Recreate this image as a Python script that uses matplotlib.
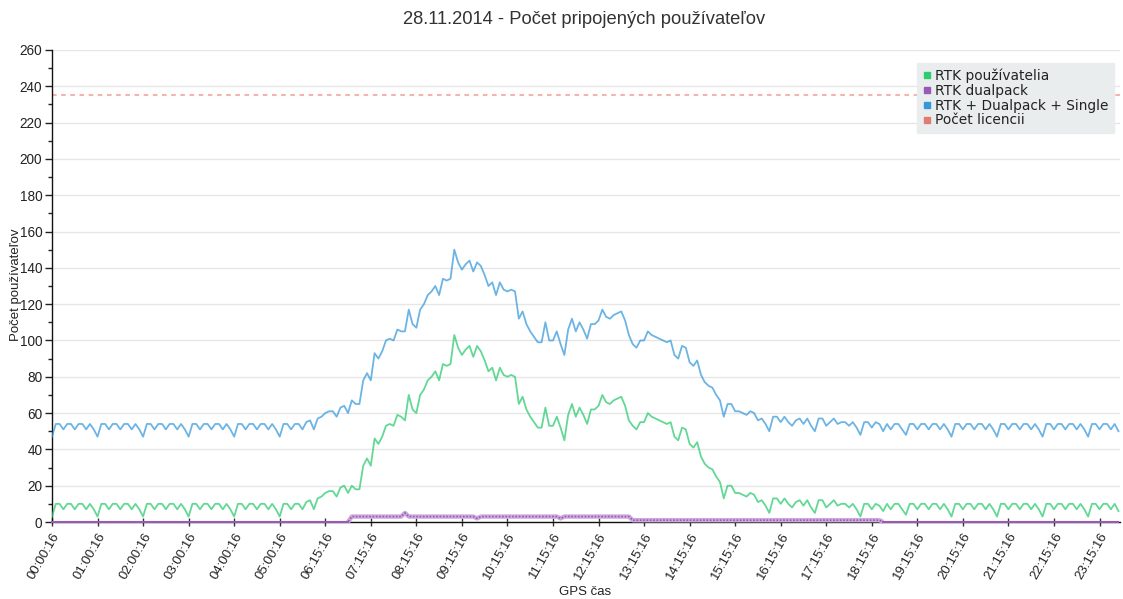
import numpy as np
import matplotlib
matplotlib.use("Agg")
import matplotlib.pyplot as plt
from matplotlib.ticker import MultipleLocator, FixedLocator
from matplotlib.lines import Line2D

# ---------------- data ----------------
tick_labels = ["00:00:16", "01:00:16", "02:00:16", "03:00:16", "04:00:16", "05:00:16",
               "06:15:16", "07:15:16", "08:15:16", "09:15:16", "10:15:16", "11:15:16",
               "12:15:16", "13:15:16", "14:15:16", "15:15:16", "16:15:16", "17:15:16",
               "18:15:16", "19:15:16", "20:15:16", "21:15:16", "22:15:16", "23:15:16"]
points_per_tick = 12

rtk_users = [
    3, 10, 10, 7, 10, 10, 7, 10, 10, 7,
    10, 7, 3, 10, 10, 7, 10, 10, 7, 10,
    10, 7, 10, 7, 3, 10, 10, 7, 10, 10,
    7, 10, 10, 7, 10, 7, 3, 10, 10, 7,
    10, 10, 7, 10, 10, 7, 10, 7, 3, 10,
    10, 7, 10, 10, 7, 10, 10, 7, 10, 7,
    3, 10, 10, 7, 10, 10, 7, 11, 12, 7,
    13, 14, 16, 17, 17, 14, 19, 20, 16, 20,
    18, 18, 31, 35, 31, 46, 43, 47, 53, 54,
    53, 59, 58, 56, 70, 62, 60, 70, 73, 78,
    80, 83, 78, 87, 86, 87, 103, 96, 92, 95,
    97, 91, 97, 94, 89, 83, 85, 78, 85, 81,
    80, 81, 80, 65, 69, 62, 58, 55, 52, 52,
    63, 53, 53, 58, 52, 45, 59, 65, 58, 63,
    59, 54, 62, 62, 64, 70, 66, 65, 67, 68,
    69, 64, 56, 53, 51, 55, 55, 60, 58, 57,
    56, 55, 54, 55, 47, 45, 52, 51, 43, 41,
    44, 36, 32, 30, 29, 25, 22, 13, 20, 20,
    16, 16, 15, 14, 16, 15, 11, 12, 9, 5,
    13, 13, 10, 13, 10, 8, 11, 12, 9, 12,
    8, 5, 12, 12, 8, 10, 12, 9, 10, 10,
    8, 10, 7, 3, 10, 10, 7, 10, 9, 6,
    10, 7, 10, 10, 7, 4, 10, 10, 7, 10,
    10, 7, 10, 10, 7, 10, 7, 3, 10, 10,
    7, 10, 10, 7, 10, 10, 7, 10, 7, 3,
    10, 10, 7, 10, 10, 7, 10, 10, 7, 10,
    7, 3, 10, 10, 7, 10, 10, 7, 10, 10,
    7, 10, 7, 3, 10, 10, 7, 10, 10, 7,
    10, 6,
]

rtk_dualpack = [
    0, 0, 0, 0, 0, 0, 0, 0, 0, 0,
    0, 0, 0, 0, 0, 0, 0, 0, 0, 0,
    0, 0, 0, 0, 0, 0, 0, 0, 0, 0,
    0, 0, 0, 0, 0, 0, 0, 0, 0, 0,
    0, 0, 0, 0, 0, 0, 0, 0, 0, 0,
    0, 0, 0, 0, 0, 0, 0, 0, 0, 0,
    0, 0, 0, 0, 0, 0, 0, 0, 0, 0,
    0, 0, 0, 0, 0, 0, 0, 0, 0, 3,
    3, 3, 3, 3, 3, 3, 3, 3, 3, 3,
    3, 3, 3, 5, 3, 3, 3, 3, 3, 3,
    3, 3, 3, 3, 3, 3, 3, 3, 3, 3,
    3, 3, 2, 3, 3, 3, 3, 3, 3, 3,
    3, 3, 3, 3, 3, 3, 3, 3, 3, 3,
    3, 3, 3, 3, 2, 3, 3, 3, 3, 3,
    3, 3, 3, 3, 3, 3, 3, 3, 3, 3,
    3, 3, 3, 1, 1, 1, 1, 1, 1, 1,
    1, 1, 1, 1, 1, 1, 1, 1, 1, 1,
    1, 1, 1, 1, 1, 1, 1, 1, 1, 1,
    1, 1, 1, 1, 1, 1, 1, 1, 1, 1,
    1, 1, 1, 1, 1, 1, 1, 1, 1, 1,
    1, 1, 1, 1, 1, 1, 1, 1, 1, 1,
    1, 1, 1, 1, 1, 1, 1, 1, 1, 0,
    0, 0, 0, 0, 0, 0, 0, 0, 0, 0,
    0, 0, 0, 0, 0, 0, 0, 0, 0, 0,
    0, 0, 0, 0, 0, 0, 0, 0, 0, 0,
    0, 0, 0, 0, 0, 0, 0, 0, 0, 0,
    0, 0, 0, 0, 0, 0, 0, 0, 0, 0,
    0, 0, 0, 0, 0, 0, 0, 0, 0, 0,
    0, 0,
]

rtk_total = [
    47, 54, 54, 51, 54, 54, 51, 54, 54, 51,
    54, 51, 47, 54, 54, 51, 54, 54, 51, 54,
    54, 51, 54, 51, 47, 54, 54, 51, 54, 54,
    51, 54, 54, 51, 54, 51, 47, 54, 54, 51,
    54, 54, 51, 54, 54, 51, 54, 51, 47, 54,
    54, 51, 54, 54, 51, 54, 54, 51, 54, 51,
    47, 54, 54, 51, 54, 54, 51, 55, 56, 51,
    57, 58, 60, 61, 61, 58, 63, 64, 60, 67,
    65, 65, 78, 82, 78, 93, 90, 94, 100, 101,
    100, 106, 105, 105, 117, 109, 107, 117, 120, 125,
    127, 130, 125, 134, 133, 134, 150, 143, 139, 142,
    144, 138, 143, 141, 136, 130, 132, 125, 132, 128,
    127, 128, 127, 112, 116, 109, 105, 102, 99, 99,
    110, 100, 100, 105, 98, 92, 106, 112, 105, 110,
    106, 101, 109, 109, 111, 117, 113, 112, 114, 115,
    116, 111, 103, 98, 96, 100, 100, 105, 103, 102,
    101, 100, 99, 100, 92, 90, 97, 96, 88, 86,
    89, 81, 77, 75, 74, 70, 67, 58, 65, 65,
    61, 61, 60, 59, 61, 60, 56, 57, 54, 50,
    58, 58, 55, 58, 55, 53, 56, 57, 54, 57,
    53, 50, 57, 57, 53, 55, 57, 54, 55, 55,
    53, 55, 52, 48, 55, 55, 52, 55, 54, 50,
    54, 51, 54, 54, 51, 48, 54, 54, 51, 54,
    54, 51, 54, 54, 51, 54, 51, 47, 54, 54,
    51, 54, 54, 51, 54, 54, 51, 54, 51, 47,
    54, 54, 51, 54, 54, 51, 54, 54, 51, 54,
    51, 47, 54, 54, 51, 54, 54, 51, 54, 54,
    51, 54, 51, 47, 54, 54, 51, 54, 54, 51,
    54, 50,
]

license_count = 235

series_names = ["RTK používatelia", "RTK dualpack", "RTK + Dualpack + Single", "Počet licencii"]
legend_colors = ["#2ecc71", "#9b59b6", "#3498db", "#e07b70"]

# ---------------- plot ----------------
plt.rcParams['font.family'] = ['Liberation Sans', 'DejaVu Sans']

fig = plt.figure(figsize=(11.23, 5.99), dpi=100)
ax = fig.add_axes([52 / 1123, 1 - 522 / 599, 1068 / 1123, 472 / 599])

x = np.arange(len(rtk_users))
users = np.array(rtk_users, dtype=float)
dual = np.array(rtk_dualpack, dtype=float)
total = np.array(rtk_total, dtype=float)

ax.axhline(license_count, color="#f5b3ae", lw=1.5, ls=(0, (2.2, 2.2)), zorder=2)
ax.plot(x, total, color="#3498db", alpha=0.72, lw=1.3, zorder=3)
ax.plot(x, users, color="#2ecc71", alpha=0.75, lw=1.3, zorder=3)

# dualpack: light band where it is non-zero, thin line everywhere
nz = np.nonzero(dual)[0]
band_x = x[nz[0] - 1: nz[-1] + 2]
band_y = dual[nz[0] - 1: nz[-1] + 2]
ax.plot(band_x, band_y, color="#cdaadc", lw=3.2, zorder=3, solid_capstyle="butt", clip_on=False)
ax.plot(x, dual, color="#9b59b6", lw=1.2, zorder=4, ls=(0, (1, 1)), clip_on=False)
ax.plot(x[:nz[0]], dual[:nz[0]], color="#9b59b6", lw=1.5, zorder=4, clip_on=False)
ax.plot(x[nz[-1] + 1:], dual[nz[-1] + 1:], color="#9b59b6", lw=1.5, zorder=4, clip_on=False)

ax.set_xlim(0, 281.4)
ax.set_ylim(0, 260)

ax.yaxis.set_major_locator(MultipleLocator(20))
ax.yaxis.set_minor_locator(MultipleLocator(10))
ax.grid(axis="y", which="major", color="#e6e6e6", lw=1.0, zorder=0)
ax.set_axisbelow(True)

tick_pos = np.arange(len(tick_labels)) * points_per_tick
ax.xaxis.set_major_locator(FixedLocator(tick_pos))
ax.set_xticklabels(tick_labels, rotation=60, ha="right", rotation_mode="anchor",
                   fontsize=9.5, color="#222222")
ax.tick_params(axis="x", direction="inout", length=6, width=1, color="#333333", pad=3)
ax.tick_params(axis="y", which="major", direction="out", length=5, width=1, color="#222222",
               labelsize=9.8, labelcolor="#222222", pad=2)
ax.tick_params(axis="y", which="minor", direction="out", length=3, width=1, color="#222222")

for s in ["top", "right"]:
    ax.spines[s].set_visible(False)
ax.spines["left"].set_color("#111111")
ax.spines["bottom"].set_color("#111111")
ax.spines["left"].set_linewidth(1.0)
ax.spines["bottom"].set_linewidth(1.0)

fig.text(584 / 1123, 1 - 20 / 599, "28.11.2014 - Počet pripojených používateľov",
         ha="center", va="center", fontsize=13.2, color="#333333")
fig.text(585 / 1123, 1 - 592 / 599, "GPS čas", ha="center", va="center",
         fontsize=9.5, color="#222222")
fig.text(16 / 1123, 1 - 285 / 599, "Počet používateľov", ha="center", va="center",
         rotation=90, fontsize=9.5, color="#222222")

handles = [Line2D([], [], ls="none", marker="s", markersize=5, markerfacecolor=c,
                  markeredgecolor=c) for c in legend_colors]
leg = ax.legend(handles, series_names, loc="upper right",
                bbox_to_anchor=((1114 - 52) / 1068, (522 - 63) / 472),
                borderaxespad=0, frameon=True, fancybox=False, framealpha=1,
                facecolor="#e9eded", edgecolor="#e9eded",
                handlelength=0.6, handletextpad=0.3, labelspacing=0.06,
                borderpad=0.4, prop={"family": "DejaVu Sans", "size": 9.9})
for t in leg.get_texts():
    t.set_color("#222222")

fig.savefig("out.png", dpi=100)
